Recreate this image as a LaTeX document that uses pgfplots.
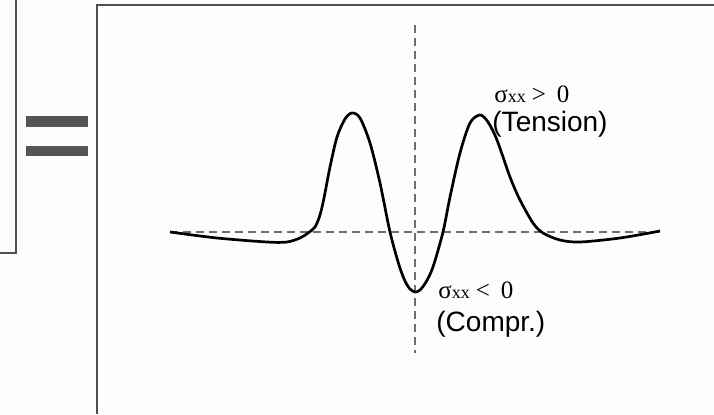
\documentclass[border=0pt]{standalone}
\usepackage{pgfplots}
\pgfplotsset{compat=1.18}
\usepackage{fontspec}
\setmainfont{Liberation Sans}
\newfontfamily\serif{Liberation Serif}
\newfontfamily\sans{Liberation Sans}
\definecolor{bgc}{RGB}{253,253,251}
\definecolor{framec}{RGB}{80,80,80}
\definecolor{eqc}{RGB}{85,85,85}
\definecolor{dashc}{RGB}{110,110,110}

% stress profile sigma_xx across the section, read in picture pixels (y down)
\pgfplotstableread{
x y
170 232
217 238
267 242
287 242
300 238
308 233
315 227
320 215
324 198
330 167
337 137
345 119
352 113
360 118
370 143
380 183
390 232
399 265
405 281
410 289
415 292
420 290
426 282
433 267
443 232
450 197
460 153
470 123
480 115
488 122
497 140
510 177
520 200
533 223
543 233
560 240
580 242
620 238
660 231
}\stress

\begin{document}
\begin{tikzpicture}
\begin{axis}[at={(0,0)},anchor=south west,scale only axis,
  width=357pt,height=207pt,xmin=0,xmax=714,ymin=0,ymax=414,y dir=reverse,
  hide axis,clip=false]
\fill[bgc] (axis cs:0,0) rectangle (axis cs:714,414);
% left panel edge
\draw[framec,line width=1pt] (axis cs:16,0) -- (axis cs:16,253) -- (axis cs:0,253);
% equals sign
\fill[eqc] (axis cs:26,116) rectangle (axis cs:88,127);
\fill[eqc] (axis cs:26,146) rectangle (axis cs:88,156);
% right panel frame
\draw[framec,line width=1pt] (axis cs:96.5,414) -- (axis cs:96.5,5) -- (axis cs:714,5);
% reference lines
\draw[dashc,line width=0.8pt,dash pattern=on 4pt off 2.5pt] (axis cs:170,232) -- (axis cs:660,232);
\draw[dashc,line width=0.8pt,dash pattern=on 4pt off 2.5pt] (axis cs:415,25) -- (axis cs:415,353);
\addplot[black,line width=1.35pt,smooth,tension=0.5] table[x=x,y=y] {\stress};
% labels
\node[anchor=base west,inner sep=0] at (axis cs:494,102)
  {\serif\fontsize{12.5pt}{14pt}\selectfont σ{\fontsize{9pt}{10pt}\selectfont xx}\hspace{3pt}>\hspace{5.5pt}0};
\node[anchor=base west,inner sep=0] at (axis cs:492,131)
  {\sans\fontsize{14pt}{16pt}\selectfont (Tension)};
\node[anchor=base west,inner sep=0] at (axis cs:438,298)
  {\serif\fontsize{12.5pt}{14pt}\selectfont σ{\fontsize{9pt}{10pt}\selectfont xx}\hspace{3pt}<\hspace{5.5pt}0};
\node[anchor=base west,inner sep=0] at (axis cs:436,331)
  {\sans\fontsize{14pt}{16pt}\selectfont (Compr.)};
\end{axis}
\pgfresetboundingbox
\path (0,0) rectangle (357pt,207pt);
\end{tikzpicture}
\end{document}
